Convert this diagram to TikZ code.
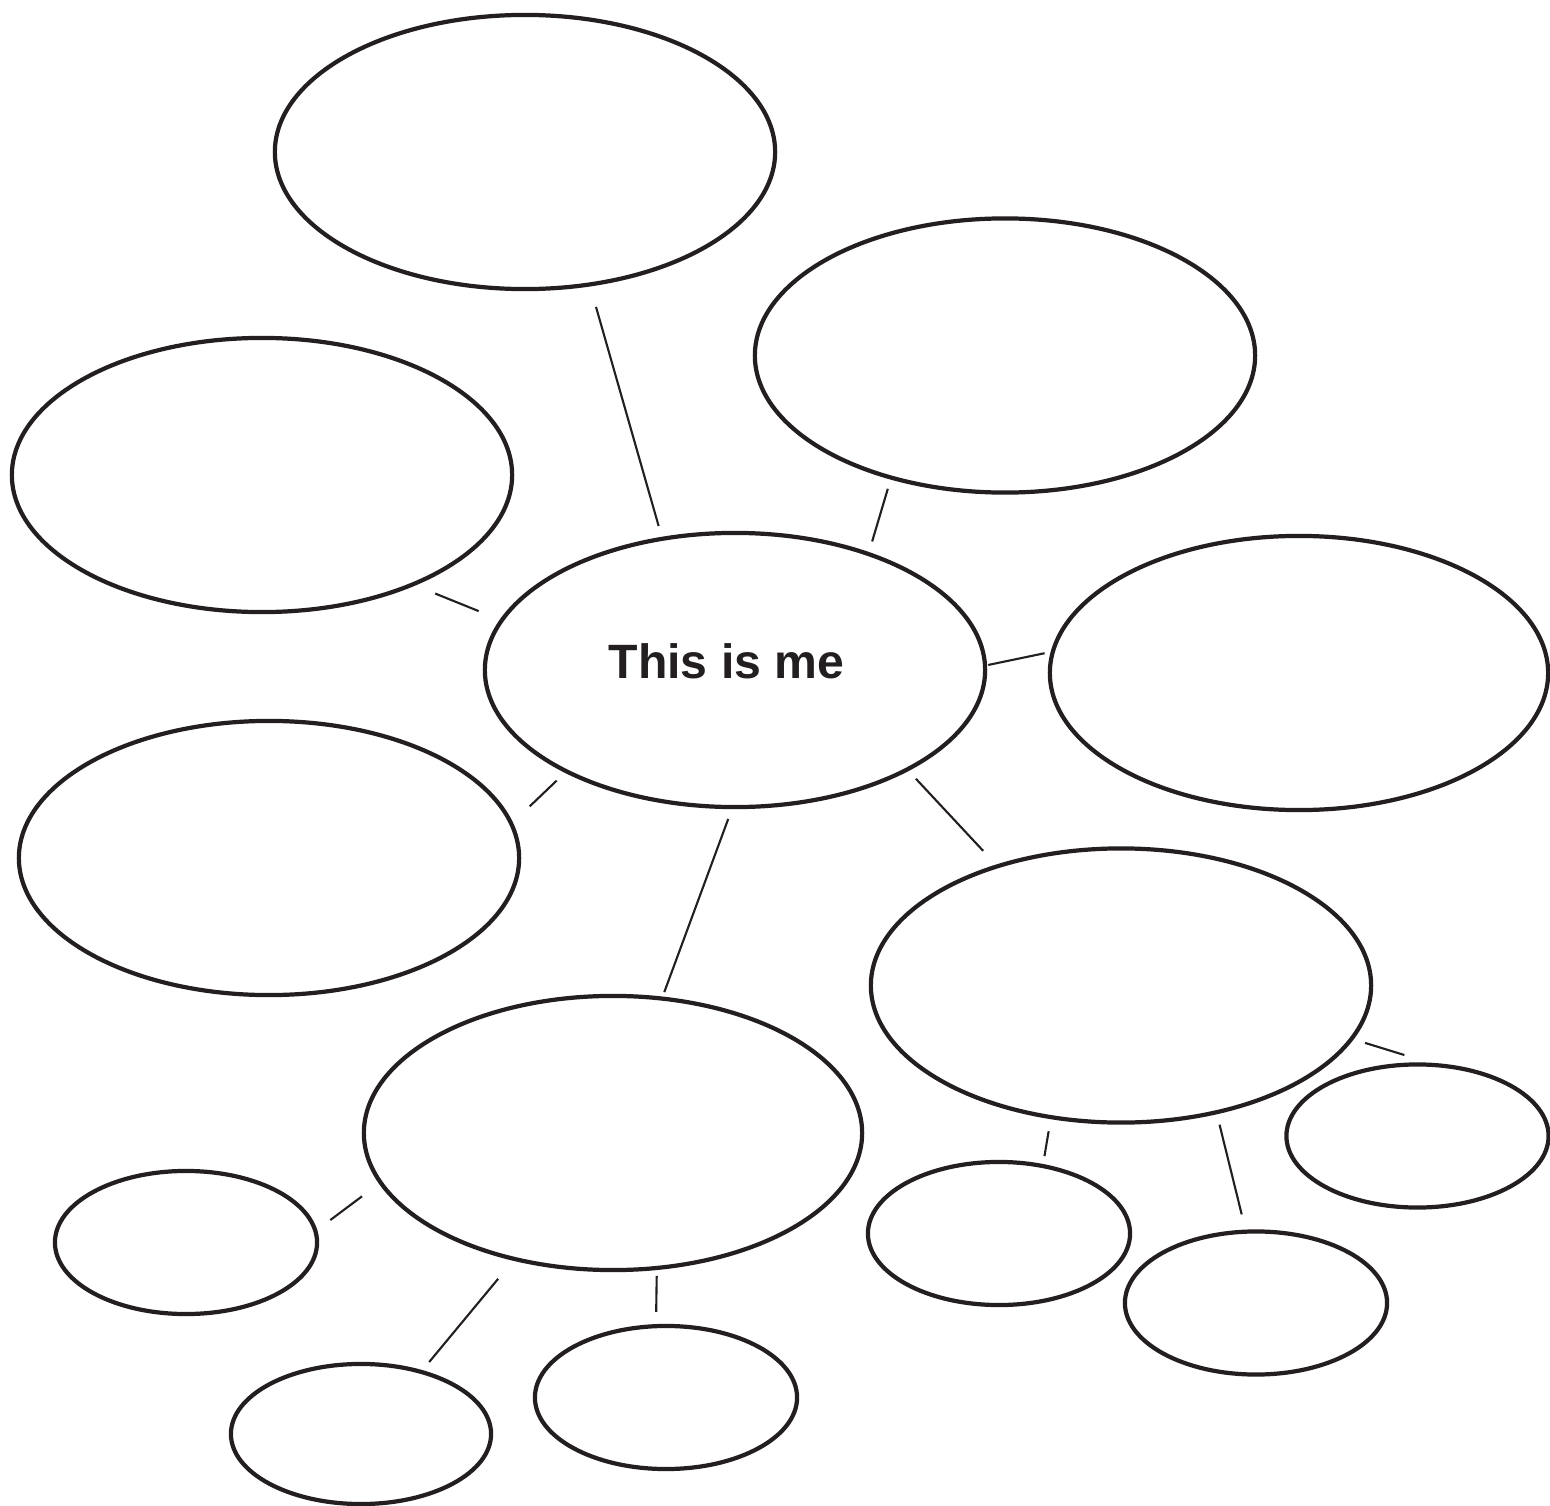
\documentclass[tikz,border=0pt]{standalone}
\usepackage{fontspec}
\setmainfont{Liberation Sans}
\definecolor{inkdark}{RGB}{35,31,32}
\usetikzlibrary{shapes.geometric}

\tikzset{
  bubble/.style={draw=inkdark,ellipse,line width=1.2pt,inner sep=0pt,outer sep=0pt,
                 minimum width=5cm,minimum height=2.74cm},
  leaf/.style={bubble,minimum width=2.62cm,minimum height=1.43cm},
  link/.style={draw=inkdark,line width=0.6pt}
}

\begin{document}
\begin{tikzpicture}[x=0.01cm,y=-0.01cm]
  \useasboundingbox (0,0) rectangle (1550,1506);
  % Centre
  \node[bubble] (me) at (735,670) {};
  \node[font=\bfseries\fontsize{13.7}{16}\selectfont,text=inkdark,anchor=base]
        (metext) at (726.5,678) {This is me};
  % Big bubbles
  \node[bubble] (top)      at (525,152)   {};
  \node[bubble] (upright)  at (1005,355.5) {};
  \node[bubble] (upleft)   at (262,475)   {};
  \node[bubble,minimum width=4.98cm] (right) at (1299,673) {};
  \node[bubble] (lowleft)  at (269,858)   {};
  \node[bubble] (lowright) at (1121,985.5) {};
  \node[bubble,minimum width=4.98cm] (lowmid) at (613,1133) {};
  % Small bubbles
  \node[leaf] (leafA) at (186,1242.5)  {};
  \node[leaf,minimum width=2.6cm,minimum height=1.4cm] (leafB) at (361,1434) {};
  \node[leaf] (leafC) at (666,1397.5)  {};
  \node[leaf] (leafD) at (999,1233.5)  {};
  \node[leaf] (leafE) at (1256,1303)   {};
  \node[leaf] (leafF) at (1417.5,1136) {};
  % Connectors
  \draw[link,shorten <=0.234cm,shorten >=0.133cm] (top.-64.4)       -- (me.119);
  \draw[link,shorten <=0.117cm,shorten >=0.131cm] (upright.227.5)   -- (me.41.25);
  \draw[link,shorten <=0.243cm,shorten >=0.249cm] (upleft.-36.8)    -- (me.168.85);
  \draw[link,shorten <=0.033cm,shorten >=0.085cm] (me.1.74)         -- (right.175.6);
  \draw[link,shorten <=0.255cm,shorten >=0.135cm] (lowleft.8.41)    -- (me.211.9);
  \draw[link,shorten <=0.128cm,shorten >=0.211cm] (me.-30.9)        -- (lowright.136.9);
  \draw[link,shorten <=0.127cm,shorten >=0.069cm] (me.-91.5)        -- (lowmid.70.5);
  \draw[link,shorten <=0.142cm,shorten >=0.349cm] (lowright.-13.7)  -- (leafF.74.9);
  \draw[link,shorten <=0.143cm,shorten >=0.101cm] (lowright.-118.3) -- (leafD.57.3);
  \draw[link,shorten <=0.129cm,shorten >=0.178cm] (lowright.-53.6)  -- (leafE.98.5);
  \draw[link,shorten <=0.232cm,shorten >=0.186cm] (lowmid.192)      -- (leafA.5.6);
  \draw[link,shorten <=0.258cm,shorten >=0.128cm] (lowmid.232.7)    -- (leafB.46.2);
  \draw[link,shorten <=0.08cm,shorten >=0.142cm]  (lowmid.-72.7)    -- (leafC.98.8);
\end{tikzpicture}
\end{document}
